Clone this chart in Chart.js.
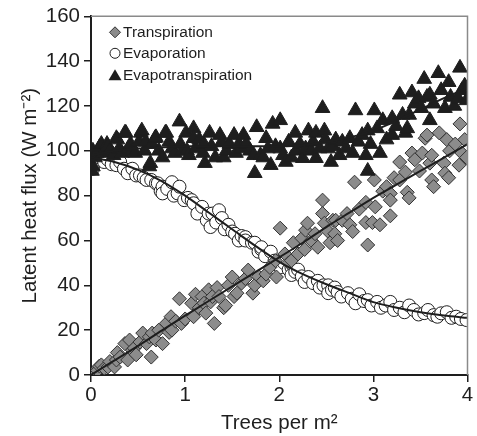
<!DOCTYPE html>
<html lang="en">
  <head>
    <meta charset="UTF-8" />
    <title>Latent heat flux</title>
    <script src="https://cdn.jsdelivr.net/npm/chart.js"></script>
    <style>
      html, body { margin: 0; padding: 0; background: #fff; }
      #wrap { width: 477px; height: 436px; }
    </style>
  </head>
  <body>
    <div id="wrap"><canvas id="fluxChart" width="477" height="436"></canvas></div>
    <script>
      // values
      const transX = [0.01,0.04,0.07,0.09,0.11,0.14,0.18,0.2,0.25,0.27,0.28,0.31,0.36,0.39,0.41,0.44,0.46,0.48,0.52,0.55,0.59,0.62,0.64,0.65,0.69,0.72,0.76,0.8,0.83,0.85,0.86,0.9,0.94,0.96,1.0,1.07,1.09,1.11,1.15,1.18,1.2,1.22,1.25,1.27,1.29,1.31,1.34,1.36,1.41,1.43,1.46,1.5,1.52,1.55,1.6,1.64,1.67,1.72,1.74,1.78,1.83,1.86,1.9,1.96,1.97,2.01,2.06,2.1,2.13,2.15,2.2,2.24,2.27,2.28,2.3,2.34,2.38,2.41,2.46,2.46,2.48,2.52,2.54,2.57,2.59,2.6,2.62,2.67,2.72,2.75,2.78,2.8,2.85,2.92,2.92,2.94,2.99,3.01,3.02,3.07,3.1,3.14,3.18,3.18,3.18,3.22,3.28,3.28,3.34,3.36,3.38,3.41,3.44,3.49,3.52,3.55,3.57,3.6,3.62,3.62,3.64,3.7,3.75,3.76,3.78,3.8,3.81,3.87,3.91,3.92,3.94,3.97,3.99];
      const transY = [0,1.5,2,4,4.5,3,3.6,6,3.6,6.7,10,8,14,6.7,15.6,11,12,9,14.7,18.7,14,17,8,18.7,15.6,20,14,23,19,26,20,24,34,23,25,32,26,36,30,35,32,27.6,38,32.6,35,23,39,35,30,31,40,43.7,35,36.5,41,43,46.8,36.5,40,44,42,45,48,51,43.7,65.5,54,50,51,59,54,61,56,64.6,67.7,60,63,57,78,72,67.7,64,59,69,63,69,60,69,72,67,64,86,74,77,68,58,68,87,75,67,82,84,81,71,78,88,87,95,90.5,81.5,79,99,96,91,99,105.6,107,94.5,98,87,84,108,94.5,90,105,88,100,103,93.6,112,99,105,97];

      const evapX = [0.02,0.04,0.07,0.09,0.14,0.18,0.22,0.27,0.31,0.35,0.39,0.44,0.48,0.52,0.56,0.59,0.64,0.69,0.71,0.74,0.76,0.76,0.81,0.86,0.88,0.92,0.94,0.99,1.03,1.07,1.09,1.13,1.18,1.23,1.25,1.27,1.29,1.33,1.36,1.39,1.42,1.46,1.5,1.53,1.57,1.6,1.64,1.64,1.71,1.74,1.78,1.81,1.81,1.85,1.91,1.95,2.01,2.05,2.1,2.13,2.13,2.17,2.2,2.24,2.27,2.31,2.36,2.41,2.43,2.47,2.52,2.52,2.56,2.59,2.62,2.66,2.73,2.77,2.81,2.85,2.9,2.94,2.98,3.04,3.08,3.13,3.18,3.22,3.28,3.33,3.38,3.43,3.48,3.54,3.58,3.64,3.68,3.72,3.78,3.83,3.88,3.93,3.99];
      const evapY = [92,94.5,96,97,95,96,94,93.6,95,92,90,92,89,89,88,87,87,85.5,85.5,82,84,81,83,86,80,81,84,78,79,78,76.6,72,75,69,72,66,72,68,73.5,70,65,67,64,63,60,62,61.5,60,59,59,55,56,57,53,55,51,48,50,47,48,44.6,46,47,44,41.5,43.7,41,42,39,40,40,36.5,38,39,37,35,36.5,34,32,36,33,33.4,31,32.6,30,31,32.6,29,30,28,31,29,27,27.6,29,26.7,26,27.5,28,25.5,26,25,24.5];

      const etX = [
        0.01,0.02,0.02,0.04,0.06,0.09,0.11,0.13,0.17,0.18,
        0.2,0.24,0.27,0.28,0.3,0.33,0.36,0.37,0.4,0.42,
        0.44,0.47,0.51,0.53,0.54,0.57,0.58,0.62,0.63,0.65,
        0.68,0.69,0.72,0.76,0.79,0.8,0.83,0.86,0.89,0.94,
        0.95,0.97,1.01,1.02,1.04,1.09,1.09,1.11,1.15,1.19,
        1.2,1.21,1.26,1.28,1.32,1.37,1.39,1.41,1.44,1.47,
        1.52,1.54,1.57,1.6,1.62,1.65,1.69,1.73,1.74,1.76,
        1.8,1.83,1.86,1.88,1.91,1.93,1.96,2.01,2.01,2.04,
        2.07,2.1,2.13,2.17,2.18,2.22,2.25,2.28,2.31,2.34,
        2.36,2.39,2.39,2.43,2.46,2.48,2.49,2.52,2.55,2.57,
        2.6,2.64,2.67,2.71,2.75,2.78,2.81,2.84,2.88,2.92,
        2.94,2.94,2.97,3.01,3.04,3.07,3.1,3.14,3.2,3.2,
        3.24,3.28,3.31,3.34,3.36,3.38,3.41,3.44,3.48,3.51,
        3.54,3.57,3.6,3.6,3.64,3.69,3.72,3.76,3.8,3.82,
        3.86,3.9,3.92,3.94,3.97,3.99];
      const etY = [
        91,93,100,97,99,101.6,103,99,103,102,
        100,98,105.6,105,101,99,108,108,101,103,
        100,99,104,108,109,100,104,93,94.5,103,
        105.6,106,100,97,108,108,104,101,99,113,
        103,100,108,100,98,110,105.6,101,105,99,
        103,94.5,108,102,97,107,104,97,100,103,
        107,99,103,101,107,103,100,98,90,110.5,
        98,97,105.6,101,93.6,112,102,113.6,101,98,
        95,104,97,108,100,103,96.7,101,109,100,
        104,108,96.7,101,119,109,105,101,95,102,
        105,98,104,101,105.6,99,118,104,107,98,
        109,91,103,118,110,99,113.6,105,114.5,107,
        111,125,116,108,110,116,126,121,123.4,119,
        132,124,125,113.6,121,134.6,127,119,130.6,124,
        120,123.4,137,127,129,122.5];

      // fitted curves as drawn in the figure
      const fitX = [0,0.25,0.5,0.75,1,1.25,1.5,1.75,2,2.25,2.5,2.75,3,3.25,3.5,3.75,4];
      const transFit = [0,6.5,13,19.8,26.5,33,39.5,46,52.5,59,66,72.5,79,85,91,97,103];
      const evapFit = [97,95,91.5,86.5,80,72.5,65,57.5,50.5,45,40.5,36.5,32.5,30,28,26.5,25.5];
      const etFit = [98,100,101,101.5,102,102,102,102,102,102.5,104,106,109,113.5,118.5,123.5,128];

      const yTicks = [0,20,40,60,80,100,120,140,160];
      const xTicks = [0,1,2,3,4];
      const legendNames = ["Transpiration", "Evaporation", "Evapotranspiration"];

      const pts = (xs, ys) => xs.map((x, i) => ({ x: x, y: ys[i] }));
      const ink = "#1e1e1e";
      const fontFam = "'Liberation Sans', Arial, sans-serif";

      // gray top/right frame plus the in-plot key
      const extras = {
        id: "extras",
        afterDatasetsDraw(chart) {
          const a = chart.chartArea;
          const c = chart.ctx;
          c.save();
          c.strokeStyle = "#8a8a8a";
          c.lineWidth = 1.5;
          c.beginPath();
          c.moveTo(a.left, a.top);
          c.lineTo(a.right, a.top);
          c.lineTo(a.right, a.bottom);
          c.stroke();

          const mx = a.left + 24;
          const rows = [a.top + 16, a.top + 37, a.top + 59];
          c.lineWidth = 1;
          // diamond
          c.fillStyle = "#8c8c8c";
          c.strokeStyle = "#333";
          c.beginPath();
          c.moveTo(mx, rows[0] - 5.5);
          c.lineTo(mx + 5.5, rows[0]);
          c.lineTo(mx, rows[0] + 5.5);
          c.lineTo(mx - 5.5, rows[0]);
          c.closePath();
          c.fill();
          c.stroke();
          // circle
          c.fillStyle = "#fff";
          c.strokeStyle = ink;
          c.beginPath();
          c.arc(mx, rows[1], 5, 0, Math.PI * 2);
          c.fill();
          c.stroke();
          // triangle
          c.fillStyle = ink;
          c.beginPath();
          c.moveTo(mx, rows[2] - 6);
          c.lineTo(mx + 6.5, rows[2] + 5);
          c.lineTo(mx - 6.5, rows[2] + 5);
          c.closePath();
          c.fill();

          c.fillStyle = ink;
          c.font = "15.5px " + fontFam;
          c.textBaseline = "middle";
          c.textAlign = "left";
          legendNames.forEach((t, i) => c.fillText(t, mx + 8, rows[i]));
          c.restore();
        },
      };

      const fitLine = (data) => ({
        data: data,
        showLine: true,
        pointRadius: 0,
        borderColor: ink,
        borderWidth: 2,
        tension: 0.3,
        order: 0,
      });

      new Chart(document.getElementById("fluxChart"), {
        type: "scatter",
        data: {
          datasets: [
            {
              label: legendNames[0],
              data: pts(transX, transY),
              pointStyle: "rectRot",
              pointRadius: 7,
              backgroundColor: "#8c8c8c",
              borderColor: "#333",
              borderWidth: 1,
              order: 2,
            },
            {
              label: legendNames[1],
              data: pts(evapX, evapY),
              pointStyle: "circle",
              pointRadius: 6.5,
              backgroundColor: "#fff",
              borderColor: ink,
              borderWidth: 1,
              order: 3,
            },
            {
              label: legendNames[2],
              data: pts(etX, etY),
              pointStyle: "triangle",
              pointRadius: 8.5,
              backgroundColor: ink,
              borderColor: ink,
              borderWidth: 1,
              order: 1,
            },
            fitLine(pts(fitX, transFit)),
            fitLine(pts(fitX, evapFit)),
            fitLine(pts(fitX, etFit)),
          ],
        },
        options: {
          responsive: false,
          animation: false,
          layout: { padding: { top: 16, right: 6, left: 0, bottom: 0 } },
          plugins: {
            tooltip: { enabled: false },
            legend: { display: false },
          },
          scales: {
            x: {
              type: "linear",
              min: 0,
              max: 4,
              afterBuildTicks: (s) => { s.ticks = xTicks.map((v) => ({ value: v })); },
              afterFit: (s) => { s.height = 61; },
              border: { color: ink, width: 2 },
              grid: { drawOnChartArea: false, drawTicks: true, tickLength: 7, color: ink, lineWidth: 1.5 },
              ticks: { color: ink, padding: 1, font: { family: fontFam, size: 20.5 } },
              title: {
                display: true,
                text: "Trees per m²",
                color: ink,
                padding: { top: 1, bottom: 0 },
                font: { family: fontFam, size: 20.5 },
              },
            },
            y: {
              min: 0,
              max: 160,
              afterBuildTicks: (s) => { s.ticks = yTicks.map((v) => ({ value: v })); },
              afterFit: (s) => { s.width = 91; },
              border: { color: ink, width: 2 },
              grid: { drawOnChartArea: false, drawTicks: true, tickLength: 7, color: ink, lineWidth: 1.5 },
              ticks: { color: ink, padding: 4, font: { family: fontFam, size: 20.5 } },
              title: {
                display: true,
                text: "Latent heat flux (W m⁻²)",
                color: ink,
                padding: { top: 18, bottom: 0 },
                font: { family: fontFam, size: 20.5 },
              },
            },
          },
        },
        plugins: [extras],
      });
    </script>
  </body>
</html>
